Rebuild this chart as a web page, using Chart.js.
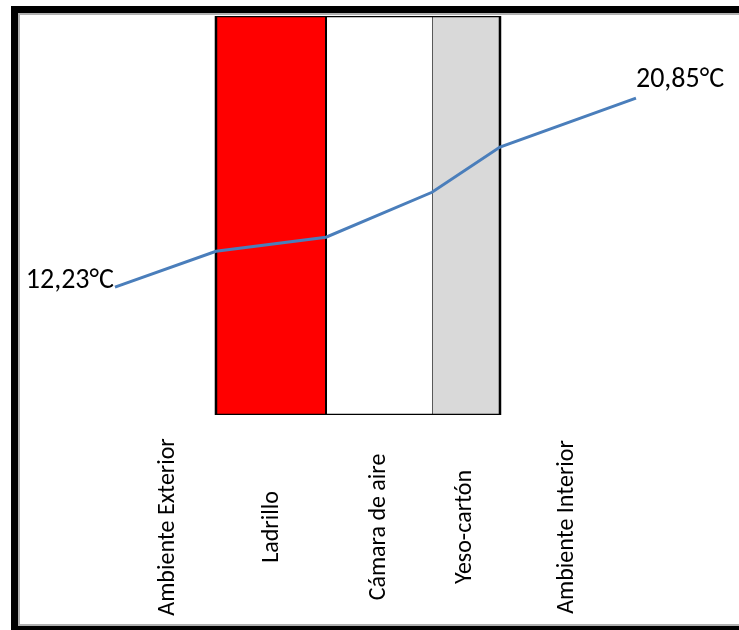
<!DOCTYPE html>
<html>
<head>
<meta charset="utf-8">
<script src="https://cdn.jsdelivr.net/npm/chart.js@4.4.1/dist/chart.umd.min.js"></script>
<style>
  html, body { margin: 0; padding: 0; background: #fff; overflow: hidden; }
  #marco {
    position: absolute; left: 11px; top: 6px;
    width: 800px; height: 613px;
    border: 7px solid #000;
    box-shadow: inset 0 0 0 2px #b0b0b0;
    background: #fff;
  }
  #grafico { position: absolute; left: 0; top: 0; }
</style>
</head>
<body>
<div id="marco"><canvas id="grafico" width="721" height="613"></canvas></div>
<script>
// categorias (eje horizontal) y su posicion en el muro
const categorias = ['Ambiente Exterior', 'Ladrillo', 'Cámara de aire', 'Yeso-cartón', 'Ambiente Interior'];
const posCategorias = [20.87, 35.23, 50.07, 62.0, 76.14];

// caras del muro: exterior ladrillo, ladrillo/camara, camara/yeso, yeso interior
const capas = ['Ladrillo', 'Cámara de aire', 'Yeso-cartón'];
const caras = [27.46, 42.72, 57.42, 66.85];

// perfil de temperaturas
const posPerfil = [13.45, 27.46, 42.72, 57.42, 66.85, 85.71];
const temperaturas = [12.23, 13.87, 14.51, 16.56, 18.62, 20.85];

// limites del eje de temperatura
const tMin = 6.4;
const tMax = 24.6;

const fuente = 'Carlito, Lato, sans-serif';

// capa: tres lados (el relleno llega hasta la base)
function capa(x0, x1) {
    return [{x: x0, y: tMin}, {x: x0, y: tMax}, {x: x1, y: tMax}, {x: x1, y: tMin}];
}
// contorno cerrado
function contorno(x0, x1) {
    return capa(x0, x1).concat([{x: x0, y: tMin}]);
}

const coloresCapas = ['#ff0000', '#ffffff', '#d9d9d9'];
const bordesCapas = ['#000000', 'rgba(0,0,0,0)', '#595959'];

const datasets = [{
    label: 'Temperatura',
    data: posPerfil.map((x, i) => ({x: x, y: temperaturas[i]})),
    borderColor: '#4a7ebb',
    borderWidth: 3,
    pointRadius: 0,
    fill: false,
    order: 0
}];

capas.forEach((nombre, i) => {
    datasets.push({
        label: nombre,
        data: capa(caras[i], caras[i + 1]),
        borderColor: bordesCapas[i],
        borderWidth: 2,
        backgroundColor: coloresCapas[i],
        pointRadius: 0,
        fill: 'start',
        order: 3 + i
    });
});

// contorno del muro
datasets.push({
    label: 'Muro',
    data: contorno(caras[0], caras[caras.length - 1]),
    borderColor: '#000000',
    borderWidth: 2.5,
    pointRadius: 0,
    fill: false,
    order: 1
});

const textos = {
    id: 'textos',
    afterDatasetsDraw(chart) {
        const ctx = chart.ctx;
        const xs = chart.scales.x;
        const area = chart.chartArea;
        ctx.save();
        ctx.fillStyle = '#000';

        // etiquetas de categorias, giradas
        ctx.font = '24px ' + fuente;
        categorias.forEach((c, i) => {
            ctx.save();
            ctx.translate(xs.getPixelForValue(posCategorias[i]), area.bottom + 112);
            ctx.rotate(-Math.PI / 2);
            ctx.textAlign = 'center';
            ctx.textBaseline = 'middle';
            ctx.fillText(c, 0, 0);
            ctx.restore();
        });

        // valores extremos del perfil
        const pts = chart.getDatasetMeta(0).data;
        const fmt = v => v.toFixed(2).replace('.', ',') + '°C';
        ctx.font = '28px ' + fuente;
        ctx.textBaseline = 'alphabetic';
        ctx.textAlign = 'right';
        ctx.fillText(fmt(temperaturas[0]), pts[0].x - 1, pts[0].y + 1);
        const ult = pts[pts.length - 1];
        ctx.textAlign = 'left';
        ctx.fillText(fmt(temperaturas[temperaturas.length - 1]), ult.x, ult.y - 11);
        ctx.restore();
    }
};

const ctx = document.getElementById('grafico').getContext('2d');
const grafico = new Chart(ctx, {
    type: 'line',
    data: { datasets: datasets },
    options: {
        responsive: false,
        animation: false,
        layout: { padding: { left: 0, right: 0, top: 3, bottom: 211 } },
        elements: { line: { tension: 0, borderJoinStyle: 'miter' } },
        scales: {
            x: { type: 'linear', min: 0, max: 100, display: false },
            y: { type: 'linear', min: tMin, max: tMax, display: false }
        },
        plugins: {
            legend: { display: false },
            tooltip: { enabled: false }
        }
    },
    plugins: [textos]
});
</script>
</body>
</html>
